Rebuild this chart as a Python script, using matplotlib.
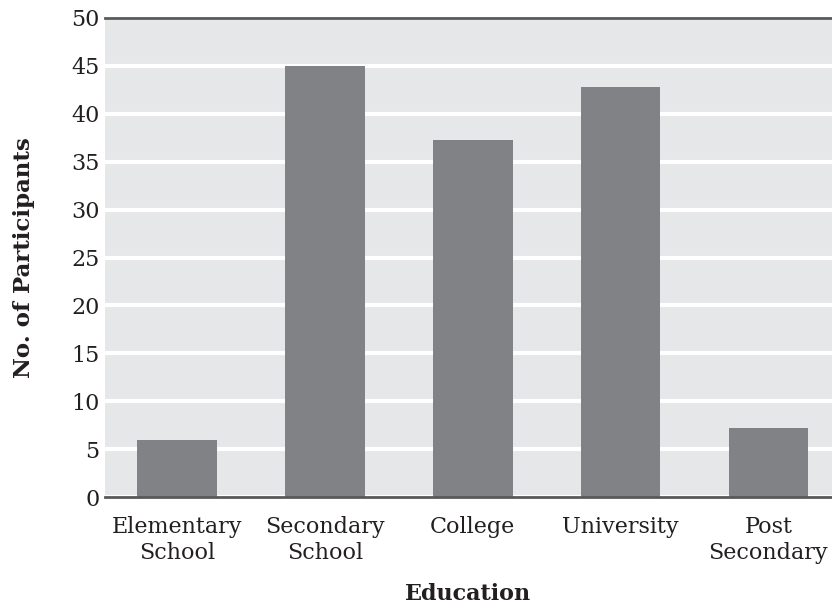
import matplotlib
matplotlib.use("Agg")
import matplotlib.pyplot as plt

categories = ["Elementary\nSchool", "Secondary\nSchool", "College", "University", "Post\nSecondary"]
values = [6.0, 45.0, 37.3, 42.8, 7.2]
yticks = [0, 5, 10, 15, 20, 25, 30, 35, 40, 45, 50]

plt.rcParams['font.family'] = ['DejaVu Serif']

fig = plt.figure(figsize=(8.32, 6.12), dpi=100)
ax = fig.add_axes([105/832, 1 - 497/612, (832-105)/832, (497-18)/612])
ax.set_facecolor('#e6e7e9')
x = list(range(len(categories)))
ax.bar(x, values, width=0.54, color='#818285', zorder=3)
ax.set_ylim(0, 50)
ax.set_xlim(-0.487, 4.43)
ax.set_yticks(yticks)
ax.set_yticklabels([str(t) for t in yticks], fontsize=16, color='#231f20')
ax.set_xticks(x)
ax.set_xticklabels(categories, fontsize=16, color='#231f20', linespacing=1.2)
ax.tick_params(axis='y', length=0, pad=4)
ax.tick_params(axis='x', length=0, pad=14)
ax.yaxis.grid(True, color='white', linewidth=3, zorder=1)
ax.set_axisbelow(True)
for s in ['left', 'right']:
    ax.spines[s].set_visible(False)
for s in ['top', 'bottom']:
    ax.spines[s].set_color('#58595b')
    ax.spines[s].set_linewidth(2)
    ax.spines[s].set_zorder(4)
ax.set_xlabel('Education', fontsize=16, fontweight='bold', color='#231f20', labelpad=14)
ax.set_ylabel('No. of Participants', fontsize=16.5, fontweight='bold', color='#231f20', labelpad=26)
fig.savefig('out.png', dpi=100)
